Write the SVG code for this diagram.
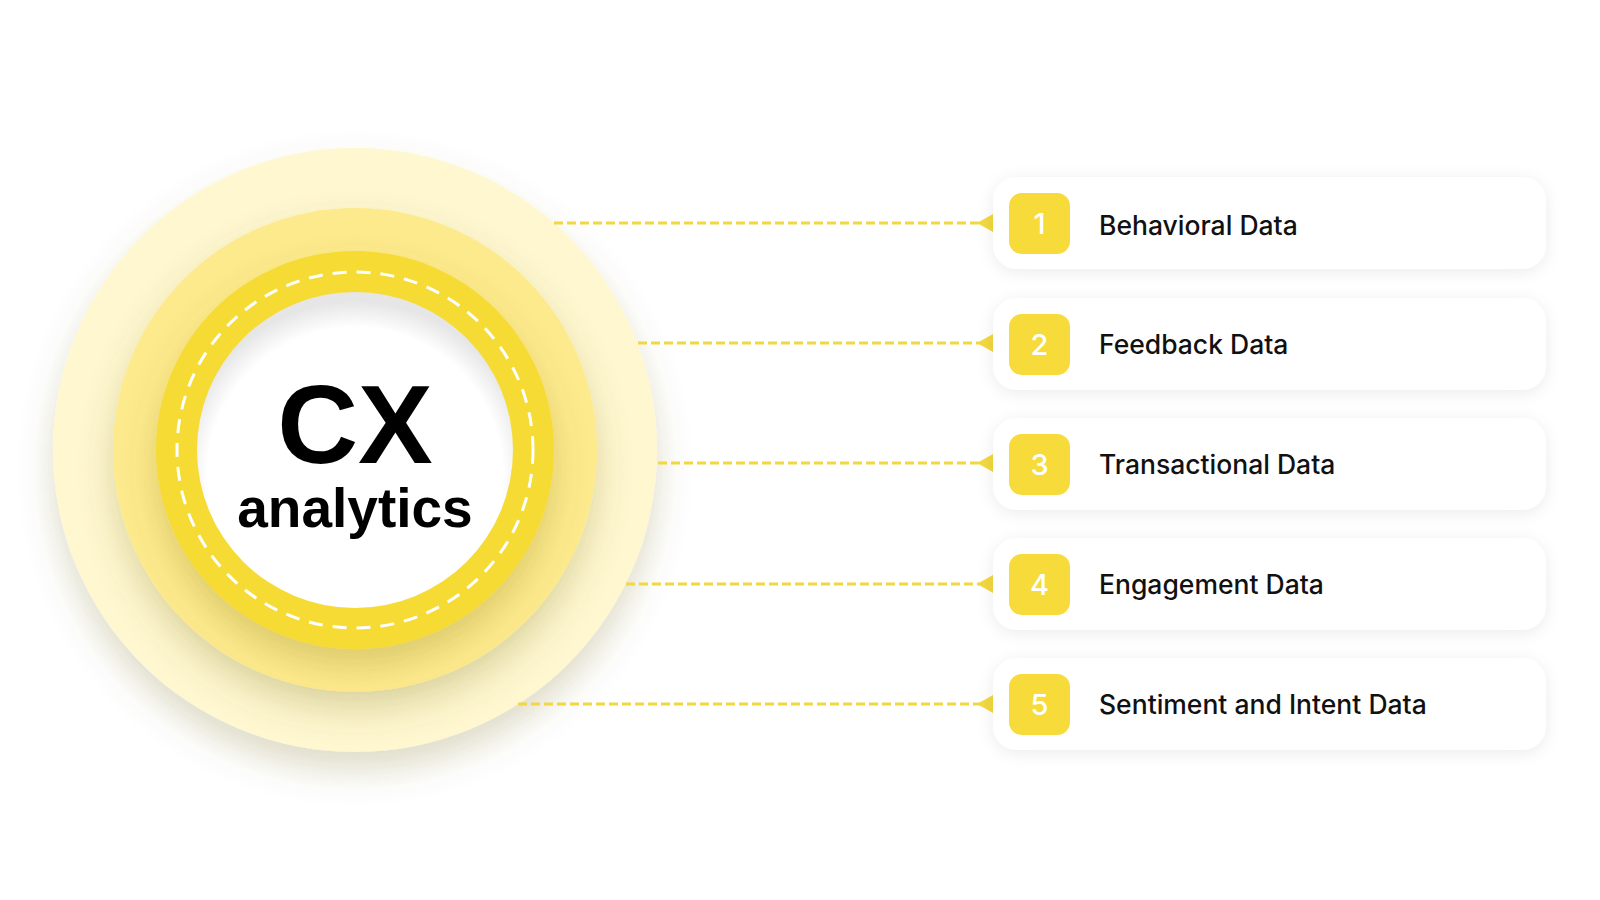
<svg xmlns="http://www.w3.org/2000/svg" width="1600" height="900" viewBox="0 0 1600 900">
<defs>
<filter id="sh" x="-30%" y="-30%" width="160%" height="170%">
<feDropShadow dx="0" dy="18" stdDeviation="17" flood-color="#6b5a00" flood-opacity="0.22"/>
</filter>
<filter id="cardsh" x="-10%" y="-40%" width="120%" height="180%">
<feDropShadow dx="0" dy="3" stdDeviation="8" flood-color="#000" flood-opacity="0.08"/>
</filter>
<radialGradient id="inset" cx="50%" cy="58%" r="55%">
<stop offset="0.85" stop-color="#ffffff"/>
<stop offset="1" stop-color="#e6e6e6"/>
</radialGradient>
<marker id="arr" markerUnits="userSpaceOnUse" markerWidth="16" markerHeight="18" refX="16" refY="9" orient="auto">
<path d="M16,0 L0,9 L16,18 z" fill="#F2D83F"/>
</marker>
<style>
.conn{stroke:#F2D83F;stroke-width:3;stroke-dasharray:9 4;fill:none}
.card{fill:#fff}
.badge{fill:#F6DB3A}
.num{font-family:Inter,"Liberation Sans",sans-serif;font-size:29px;font-weight:500;fill:#fff;text-anchor:middle}
.lbl{font-family:Inter,"Liberation Sans",sans-serif;font-size:26.5px;font-weight:500;fill:#111}
</style>
</defs>
<rect width="1600" height="900" fill="#fff"/>
<g id="hub">
<circle cx="355" cy="450" r="302" fill="#FEF7CF" filter="url(#sh)"/>
<circle cx="355" cy="450" r="242" fill="#FDEA8C" filter="url(#sh)"/>
<circle cx="355" cy="450" r="199" fill="#F6DB35" filter="url(#sh)"/>
<circle cx="355" cy="450" r="158" fill="url(#inset)"/>
<circle cx="355" cy="450" r="178" fill="none" stroke="#fff" stroke-width="3" stroke-dasharray="14 10"/>
<text x="355" y="463" text-anchor="middle" font-family="'Liberation Sans',Arial,sans-serif" font-weight="bold" font-size="112" fill="#000">CX</text>
<text x="355" y="527" text-anchor="middle" font-family="'Liberation Sans',Arial,sans-serif" font-weight="bold" font-size="55" fill="#000">analytics</text>
</g>
<g id="connectors">
<line class="conn" x1="554" y1="223" x2="993" y2="223" marker-end="url(#arr)"/>
<line class="conn" x1="638" y1="343" x2="993" y2="343" marker-end="url(#arr)"/>
<line class="conn" x1="658" y1="463" x2="993" y2="463" marker-end="url(#arr)"/>
<line class="conn" x1="626" y1="584" x2="993" y2="584" marker-end="url(#arr)"/>
<line class="conn" x1="518" y1="704" x2="993" y2="704" marker-end="url(#arr)"/>
</g>
<g id="node1">
<rect class="card" x="993" y="177" width="553" height="92" rx="24" filter="url(#cardsh)"/>
<rect class="badge" x="1009" y="193" width="61" height="61" rx="13"/>
<text class="num" x="1039.5" y="234">1</text>
<text class="lbl" x="1099" y="235">Behavioral Data</text>
</g>
<g id="node2">
<rect class="card" x="993" y="298" width="553" height="92" rx="24" filter="url(#cardsh)"/>
<rect class="badge" x="1009" y="314" width="61" height="61" rx="13"/>
<text class="num" x="1039.5" y="355">2</text>
<text class="lbl" x="1099" y="354">Feedback Data</text>
</g>
<g id="node3">
<rect class="card" x="993" y="418" width="553" height="92" rx="24" filter="url(#cardsh)"/>
<rect class="badge" x="1009" y="434" width="61" height="61" rx="13"/>
<text class="num" x="1039.5" y="475">3</text>
<text class="lbl" x="1099" y="474">Transactional Data</text>
</g>
<g id="node4">
<rect class="card" x="993" y="538" width="553" height="92" rx="24" filter="url(#cardsh)"/>
<rect class="badge" x="1009" y="554" width="61" height="61" rx="13"/>
<text class="num" x="1039.5" y="595">4</text>
<text class="lbl" x="1099" y="594">Engagement Data</text>
</g>
<g id="node5">
<rect class="card" x="993" y="658" width="553" height="92" rx="24" filter="url(#cardsh)"/>
<rect class="badge" x="1009" y="674" width="61" height="61" rx="13"/>
<text class="num" x="1039.5" y="715">5</text>
<text class="lbl" x="1099" y="714">Sentiment and Intent Data</text>
</g>
</svg>
